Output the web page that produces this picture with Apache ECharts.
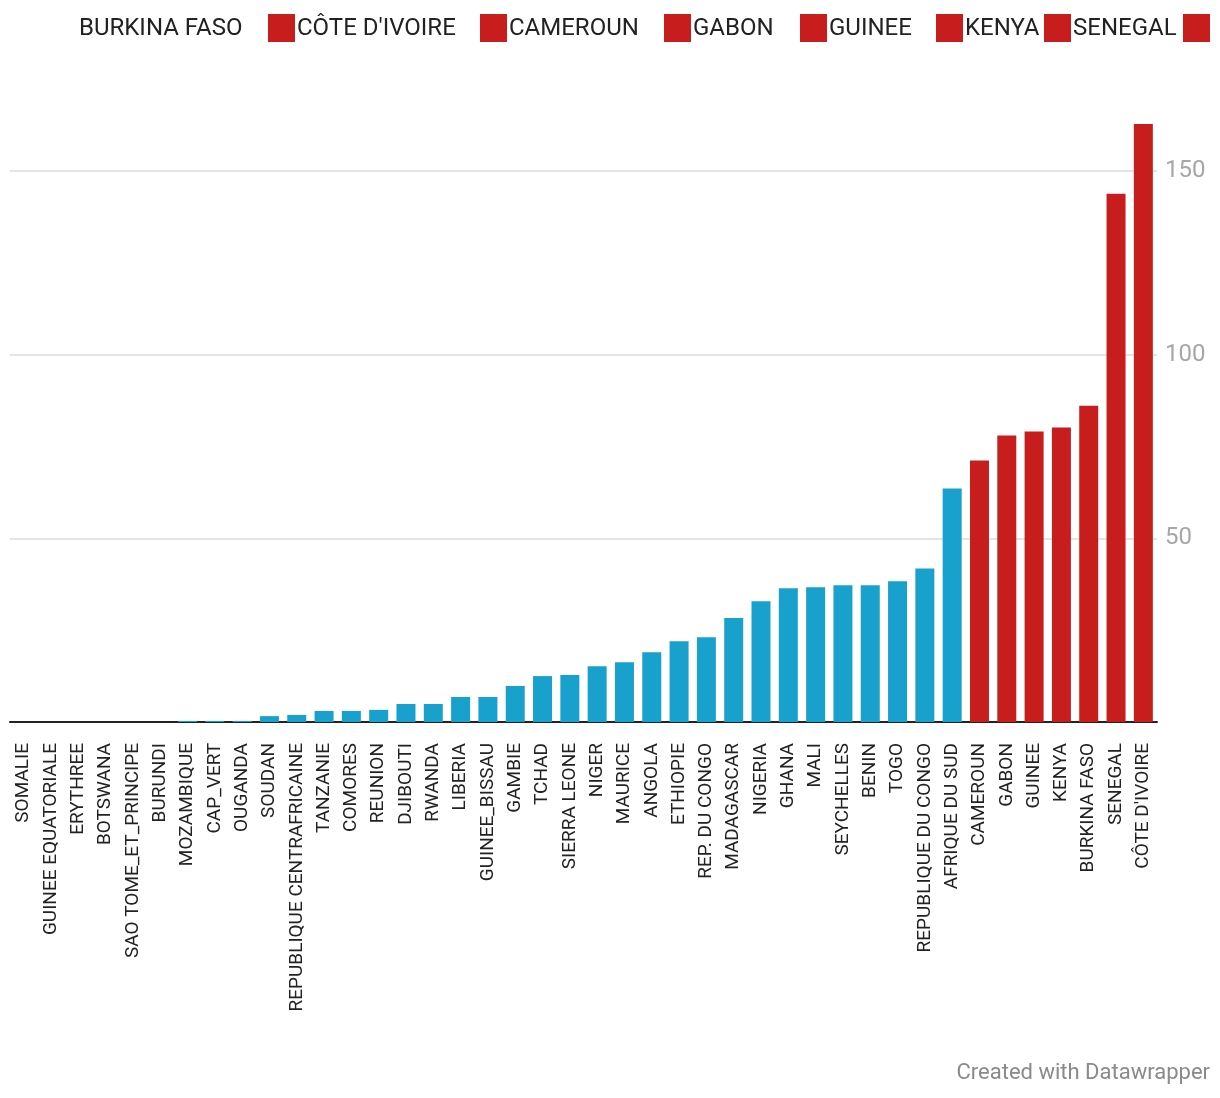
<!DOCTYPE html>
<html>
<head>
<meta charset="utf-8">
<script src="https://cdn.jsdelivr.net/npm/echarts@6/dist/echarts.min.js"></script>
<style>
html,body{margin:0;padding:0;background:#fff;}
#chart{width:1220px;height:1098px;}
</style>
</head>
<body>
<div id="chart"></div>
<script>
const categories = ["SOMALIE","GUINEE EQUATORIALE","ERYTHREE","BOTSWANA","SAO TOME_ET_PRINCIPE","BURUNDI","MOZAMBIQUE","CAP_VERT","OUGANDA","SOUDAN","REPUBLIQUE CENTRAFRICAINE","TANZANIE","COMORES","REUNION","DJIBOUTI","RWANDA","LIBERIA","GUINEE_BISSAU","GAMBIE","TCHAD","SIERRA LEONE","NIGER","MAURICE","ANGOLA","ETHIOPIE","REP. DU CONGO","MADAGASCAR","NIGERIA","GHANA","MALI","SEYCHELLES","BENIN","TOGO","REPUBLIQUE DU CONGO","AFRIQUE DU SUD","CAMEROUN","GABON","GUINEE","KENYA","BURKINA FASO","SENEGAL","CÔTE D'IVOIRE"];
const values = [0,0,0,0,0,0,0.3,0.3,0.3,1.6,1.9,3.0,3.0,3.3,4.9,4.9,6.8,6.8,9.8,12.5,12.8,15.2,16.3,19.0,22.0,23.1,28.3,32.9,36.4,36.7,37.2,37.2,38.3,41.8,63.6,71.2,78.0,79.1,80.2,86.1,143.8,162.8];
const highlighted = ["BURKINA FASO","CÔTE D'IVOIRE","CAMEROUN","GABON","GUINEE","KENYA","SENEGAL"];
const yTicks = [0,50,100,150];
const yMax = 165;

const RED = '#c71e1d', BLUE = '#18a1cd';
const chart = echarts.init(document.getElementById('chart'));

// legend as graphic (label followed by square, as in the reference)
const legendTextX = [79,297,509,693,829,965,1073];
const legendSquareX = [268,480,664,800,936,1044,1183];
const graphics = [];
highlighted.forEach((n,i)=>{
  graphics.push({type:'text', left:legendTextX[i], top:17, style:{text:n, fontFamily:'Roboto', fontSize:24, fill:'#222'}});
  graphics.push({type:'rect', shape:{x:legendSquareX[i], y:14, width:27, height:28}, style:{fill:RED}});
});
graphics.push({type:'text', right:10, top:1062, style:{text:'Created with Datawrapper', fontFamily:'Roboto', fontSize:22, fill:'#8a8a8a'}});

chart.setOption({
  animation:false,
  graphic: graphics,
  grid:{left:10, right:63, top:116, bottom:376, containLabel:false},
  xAxis:{
    type:'category', data:categories,
    axisLine:{lineStyle:{color:'#222', width:2}},
    axisTick:{alignWithLabel:true, length:9, lineStyle:{color:'#222', width:2}},
    axisLabel:{rotate:90, interval:0, margin:21, fontFamily:'Roboto', fontSize:19, color:'#222'}
  },
  yAxis:{
    type:'value', position:'right', min:yTicks[0], max:yMax, interval:50,
    axisLine:{show:false}, axisTick:{show:false},
    axisLabel:{margin:8, fontFamily:'Roboto', fontSize:24, color:'#a6a6a6', showMinLabel:false, showMaxLabel:false},
    splitLine:{showMaxLine:false, showMinLine:false, lineStyle:{color:'#e4e4e4', width:2}}
  },
  series:[{
    type:'bar', barWidth:19,
    data: values.map((v,i)=>({value:v, itemStyle:{color: highlighted.includes(categories[i]) ? RED : BLUE}}))
  }]
});
</script>
</body>
</html>
